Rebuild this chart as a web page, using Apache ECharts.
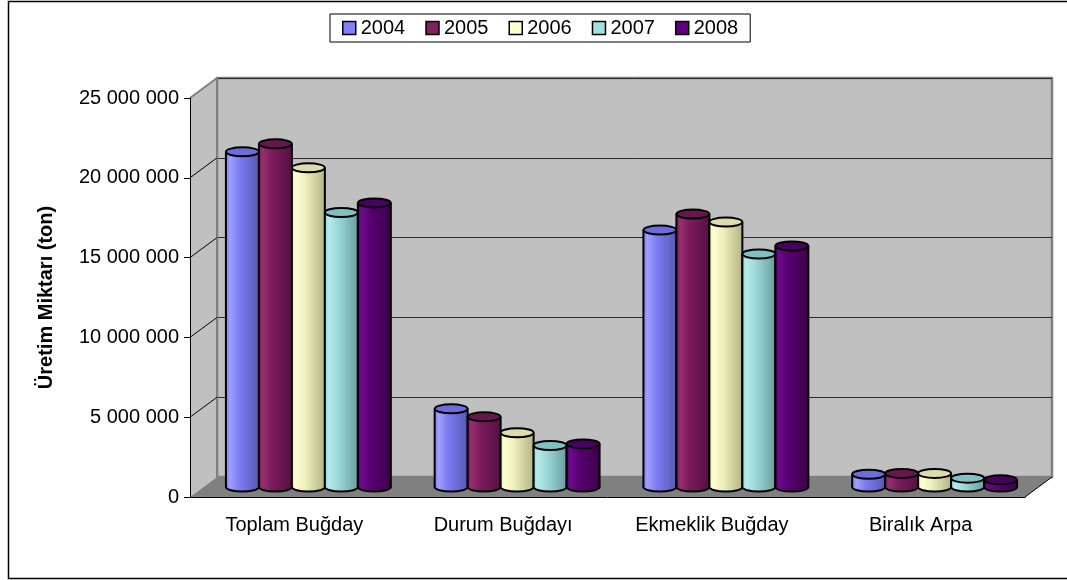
<!DOCTYPE html>
<html>
<head>
<meta charset="utf-8">
<script src="https://cdn.jsdelivr.net/npm/echarts@6/dist/echarts.min.js"></script>
<style>
  html, body { margin: 0; padding: 0; background: #fff; }
  #chart { width: 1067px; height: 580px; }
</style>
</head>
<body>
<div id="chart"></div>
<script>
// data
const categories = ['Toplam Buğday', 'Durum Buğdayı', 'Ekmeklik Buğday', 'Biralık Arpa'];
const years = ['2004', '2005', '2006', '2007', '2008'];
const v2004 = [21000000, 4900000, 16100000, 800000];
const v2005 = [21500000, 4400000, 17100000, 850000];
const v2006 = [20000000, 3400000, 16600000, 850000];
const v2007 = [17200000, 2600000, 14600000, 550000];
const v2008 = [17800000, 2700000, 15100000, 450000];
const yTicks = [5000000, 10000000, 15000000, 20000000];

const seriesValues = [v2004, v2005, v2006, v2007, v2008];

// cylinder shades: [legend, light, base, dark, top]
const shades = [
    ['#8080ff', '#a0a0ff', '#7c7cf2', '#5858b4', '#6c6cdc'],
    ['#802060', '#96306f', '#7b1b5c', '#561040', '#681650'],
    ['#ffffcc', '#fdfdd0', '#f0f0bc', '#b4b486', '#dcdcac'],
    ['#a0e0e0', '#b4eaea', '#9cd8d8', '#689e9e', '#80c0c0'],
    ['#600080', '#6c0a8c', '#580070', '#3c004c', '#48005e']
];

const DX = 14, DY = -10;      // half depth of the 3d box
const BACK_DX = 27, BACK_DY = -20;
const GROUP = 0.79;           // share of the category band used by the bars
const RY = 4.5;
const FONT = "'Liberation Sans', Arial, sans-serif";

function fmt(v) {
    return String(v).replace(/\B(?=(\d{3})+(?!\d))/g, ' ');
}

function cylinder(idx) {
    const s = shades[idx];
    return function (params, api) {
        const cat = api.value(0);
        const base = api.coord([cat, 0]);
        const top = api.coord([cat, api.value(1)]);
        const band = api.size([1, 0])[0];
        const w = band * GROUP / years.length;
        const x = base[0] - band * GROUP / 2 + idx * w + DX;
        const yb = base[1] + DY;
        const yt = top[1] + DY;
        const grad = {
            type: 'linear', x: 0, y: 0, x2: 1, y2: 0,
            colorStops: [
                {offset: 0, color: s[2]},
                {offset: 0.12, color: s[1]},
                {offset: 0.4, color: s[2]},
                {offset: 1, color: s[3]}
            ]
        };
        return {
            type: 'group',
            children: [
                {type: 'ellipse', shape: {cx: x + w / 2, cy: yb, rx: w / 2, ry: RY},
                    style: {fill: grad, stroke: '#000', lineWidth: 2}},
                {type: 'rect', shape: {x: x, y: yt, width: w, height: yb - yt},
                    style: {fill: grad}},
                {type: 'line', shape: {x1: x, y1: yt, x2: x, y2: yb},
                    style: {stroke: '#000', lineWidth: 2}},
                {type: 'line', shape: {x1: x + w, y1: yt, x2: x + w, y2: yb},
                    style: {stroke: '#000', lineWidth: 2}},
                {type: 'ellipse', shape: {cx: x + w / 2, cy: yt, rx: w / 2, ry: RY},
                    style: {fill: s[4], stroke: '#000', lineWidth: 2}}
            ]
        };
    };
}

const chart = echarts.init(document.getElementById('chart'));

const series = [
    // side wall and floor
    {
        type: 'custom', name: 'walls', xAxisIndex: 0, yAxisIndex: 0, z: 1, silent: true,
        data: [[0, 0]],
        renderItem: function (params, api) {
            const cs = params.coordSys;
            const x0 = cs.x, x1 = cs.x + cs.width;
            const y0 = api.coord([0, 0])[1];
            const yTop = cs.y;
            return {
                type: 'group',
                children: [
                    {type: 'polygon', shape: {points: [[x0, yTop], [x0 + BACK_DX, yTop + BACK_DY],
                        [x0 + BACK_DX, y0 + BACK_DY], [x0, y0]]},
                        style: {fill: '#c0c0c0'}},
                    {type: 'line', shape: {x1: x0, y1: yTop, x2: x0 + BACK_DX, y2: yTop + BACK_DY},
                        style: {stroke: '#808080', lineWidth: 2}},
                    {type: 'line', shape: {x1: x0 + BACK_DX, y1: yTop + BACK_DY, x2: x0 + BACK_DX, y2: y0 + BACK_DY},
                        style: {stroke: '#808080', lineWidth: 2}},
                    {type: 'polygon', shape: {points: [[x0, y0], [x1, y0],
                        [x1 + BACK_DX, y0 + BACK_DY], [x0 + BACK_DX, y0 + BACK_DY]]},
                        style: {fill: '#808080'}},
                    {type: 'line', shape: {x1: x1, y1: y0, x2: x1 + BACK_DX, y2: y0 + BACK_DY},
                        style: {stroke: '#000', lineWidth: 1}}
                ]
            };
        }
    },
    // depth lines on the side wall at each tick
    {
        type: 'custom', name: 'depth', xAxisIndex: 0, yAxisIndex: 0, z: 2, silent: true,
        data: yTicks.map(v => [0, v]),
        renderItem: function (params, api) {
            const x0 = params.coordSys.x;
            const y = api.coord([0, api.value(1)])[1];
            return {type: 'line', shape: {x1: x0, y1: y, x2: x0 + BACK_DX, y2: y + BACK_DY},
                style: {stroke: '#000', lineWidth: 1}};
        }
    }
];

years.forEach(function (yr, i) {
    series.push({
        type: 'custom',
        name: yr,
        xAxisIndex: 0, yAxisIndex: 0,
        z: 3,
        itemStyle: {color: shades[i][0]},
        encode: {x: 0, y: 1},
        data: seriesValues[i].map((v, c) => [c, v]),
        renderItem: cylinder(i)
    });
});

chart.setOption({
    backgroundColor: '#ffffff',
    animation: false,
    textStyle: {fontFamily: FONT},
    graphic: [{
        type: 'rect', z: 0, silent: true,
        shape: {x: 8.5, y: 1.5, width: 1070, height: 577},
        style: {fill: null, stroke: '#000', lineWidth: 1.5}
    }],
    legend: {
        data: years,
        left: 330,
        top: 14,
        icon: 'rect',
        itemWidth: 13,
        itemHeight: 13,
        itemGap: 20,
        padding: [4, 12],
        borderColor: '#000',
        borderWidth: 1,
        itemStyle: {borderColor: '#000', borderWidth: 1.5},
        textStyle: {fontSize: 20, color: '#000', fontFamily: FONT}
    },
    grid: [
        {left: 190, right: 42, top: 98, bottom: 83},
        {left: 190 + BACK_DX, right: 42 - BACK_DX, top: 98 + BACK_DY, bottom: 83 - BACK_DY,
            show: true, backgroundColor: '#c0c0c0', borderColor: '#808080', borderWidth: 2.5}
    ],
    xAxis: [
        {
            type: 'category', gridIndex: 0, data: categories, z: 10,
            axisLine: {lineStyle: {color: '#000', width: 1}},
            axisTick: {length: 8, lineStyle: {color: '#000'}},
            axisLabel: {fontSize: 20, color: '#000', margin: 18, fontFamily: FONT}
        },
        {type: 'category', gridIndex: 1, data: categories, show: false}
    ],
    yAxis: [
        {
            type: 'value', gridIndex: 0, min: 0, max: 25000000, interval: 5000000, z: 10,
            name: 'Üretim Miktarı (ton)',
            nameLocation: 'middle',
            nameRotate: 90,
            nameGap: 134,
            nameTextStyle: {fontSize: 20, fontWeight: 'bold', color: '#000', fontFamily: FONT},
            axisLine: {show: true, lineStyle: {color: '#000', width: 1}},
            axisTick: {show: true, length: 6, lineStyle: {color: '#000'}},
            axisLabel: {fontSize: 20, color: '#000', margin: 11, formatter: fmt, fontFamily: FONT},
            splitLine: {show: false}
        },
        {
            type: 'value', gridIndex: 1, min: 0, max: 25000000, interval: 5000000,
            axisLine: {show: false}, axisTick: {show: false}, axisLabel: {show: false},
            splitLine: {show: true, lineStyle: {color: '#2a2a2a', width: 1}}
        }
    ],
    series: series
});
</script>
</body>
</html>
